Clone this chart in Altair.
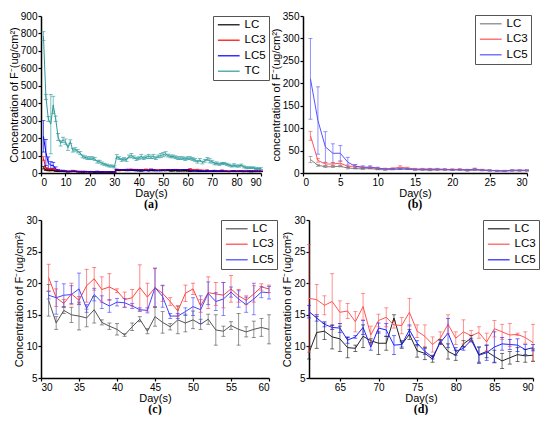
import altair as alt
import pandas as pd

days = list(range(1, 91))

LC = [30, 17, 14, 14, 15, 11, 10, 9, 10, 8, 7, 8, 9, 9, 7, 7, 6, 7, 7, 7, 8, 5, 7, 6, 5, 5, 4, 5, 5, 5,
      17.3, 13.7, 15.7, 15.0, 14.8, 14.5, 15.8, 13.8, 13.2, 12.7, 11.8, 13.1, 14.3, 12.4, 14.7,
      13.8, 13.1, 14.2, 13.7, 14.2, 13.5, 14.3, 12.6, 12.4, 13.3, 12.7, 12.3, 12.7, 13.0, 12.7,
      9.0, 12.2, 12.4, 11.5, 11.2, 9.8, 9.7, 11.6, 10.9, 10.5, 10.5, 14.5, 10.3, 11.9, 9.3,
      8.9, 8.0, 10.8, 9.2, 8.6, 10.4, 11.3, 8.7, 9.2, 8.4, 7.7, 8.2, 8.7, 8.5, 8.6]
LC_err = [7, 2, 2, 2, 1.5, 2, 1, 1, 1, 1, 1, 1, 1, 1, 1, 1, 1, 1, 1, 1, 1, 1, 1, 1, 1, 1, 1, 1, 1, 1,
          2.5, 1.0, 0.5, 1.2, 2.2, 1.4, 2.1, 0.4, 0.5, 0.9, 0.2, 0.6, 0.4, 0.4, 1.5,
          1.7, 0.5, 2.2, 1.4, 1.4, 0.8, 0.8, 2.4, 0.8, 0.6, 2.5, 0.8, 1.3, 1.4, 2.3,
          1.0, 2.5, 1.3, 1.9, 2.0, 1.6, 0.5, 1.8, 0.3, 1.8, 1.1, 0.5, 0.6, 0.8, 1.0,
          1.0, 0.5, 0.3, 1.2, 0.8, 0.5, 0.4, 1.2, 1.0, 1.0, 1.2, 1.0, 1.1, 1.0, 1.0]

LC3 = [83, 28, 20, 20, 22, 15, 15, 12, 12, 10, 9, 10, 13, 11, 9, 9, 9, 9, 8, 8, 8, 7, 9, 7, 6, 5, 5, 6, 6, 6,
       20.9, 17.7, 16.8, 18.3, 17.3, 19.6, 20.7, 19.0, 19.4, 18.8, 17.4, 17.7, 19.3, 17.8, 19.3,
       18.4, 17.1, 15.6, 18.4, 19.1, 16.4, 18.5, 18.3, 18.1, 19.1, 18.0, 17.3, 18.3, 19.4, 19.1,
       17.6, 17.4, 16.5, 17.1, 15.4, 15.6, 13.9, 16.3, 11.8, 14.1, 14.6, 13.4, 13.3, 15.4, 12.4,
       11.6, 10.3, 11.3, 13.5, 11.3, 12.3, 11.7, 12.2, 10.7, 12.8, 12.3, 11.8, 11.9, 11.4, 10.6]
LC3_err = [10, 4, 3, 3, 4, 3, 3, 2, 2, 2, 1.5, 1.5, 3, 2, 1.5, 1.5, 1.5, 1.5, 1.5, 1.5, 1.5, 1.5, 2, 1.5, 1, 1, 1, 1, 1, 1,
           2.1, 1.4, 0.6, 1.7, 0.6, 2.6, 1.8, 2.0, 2.1, 0.3, 1.2, 1.3, 3.6, 2.2, 3.0,
           1.3, 0.6, 0.8, 1.3, 0.9, 1.0, 2.5, 1.8, 2.0, 2.1, 1.0, 0.7, 1.3, 0.5, 0.6,
           8.5, 2.4, 1.5, 4.4, 1.8, 1.2, 1.6, 2.1, 1.4, 1.0, 1.5, 0.5, 1.3, 2.2, 1.0,
           1.8, 1.2, 1.0, 1.5, 1.0, 1.9, 0.8, 0.9, 1.4, 1.3, 1.2, 1.8, 0.2, 0.9, 2.9]

LC5 = [210, 117, 58, 44, 44, 24, 15, 13, 13, 11, 9, 9, 9, 9, 8, 8, 8, 8, 8, 7, 7, 7, 8, 6, 6, 5, 5, 6, 6, 6,
       18.1, 17.7, 18.1, 18.2, 19.1, 16.0, 18.2, 17.0, 16.4, 17.0, 16.9, 16.4, 15.8, 15.7, 19.3,
       17.9, 14.8, 14.8, 15.5, 16.3, 15.8, 18.4, 17.1, 17.5, 18.6, 17.5, 16.6, 17.5, 18.6, 18.5,
       15.5, 14.5, 13.5, 13.0, 12.9, 11.0, 11.5, 13.0, 9.9, 12.9, 12.6, 10.2, 10.3, 12.6, 10.5,
       9.2, 8.3, 10.6, 12.1, 9.2, 9.7, 11.0, 8.6, 9.0, 9.9, 10.4, 10.3, 10.2, 9.5, 9.8]
LC5_err = [90, 75, 34, 21, 17, 11, 4, 3, 3, 2, 1.5, 1.5, 1.5, 1.5, 1, 1, 1, 1, 1, 1, 1, 1, 1.5, 1, 1, 1, 1, 1, 1, 1,
           0.6, 2.6, 1.8, 1.4, 2.5, 0.6, 1.0, 1.0, 1.0, 0.6, 0.7, 0.4, 0.3, 0.4, 3.1,
           1.7, 0.4, 0.4, 0.6, 1.4, 2.2, 1.8, 1.4, 2.6, 0.8, 1.3, 1.2, 2.5, 0.9, 1.0,
           1.0, 0.5, 0.4, 0.3, 0.7, 0.5, 0.2, 1.1, 0.5, 0.8, 1.0, 1.5, 0.4, 0.8, 0.4,
           0.5, 0.3, 0.3, 2.3, 0.6, 0.3, 0.3, 1.3, 1.2, 2.4, 1.0, 0.8, 1.0, 0.8, 0.5]

TC = [785, 436, 310, 280, 390, 311, 206, 170, 190, 180, 145, 180, 130, 135, 125, 115, 95, 90, 85, 85,
      85, 80, 65, 65, 55, 50, 45, 40, 40, 35,
      95, 85, 75, 80, 75, 95, 100, 90, 80, 85, 95, 85, 90, 95, 90, 95, 85, 95, 100, 105,
      110, 100, 95, 95, 90, 85, 85, 85, 80, 85,
      85, 80, 75, 65, 75, 60, 70, 80, 70, 65, 55, 55, 50, 55, 55, 50, 45, 40, 45, 40,
      40, 45, 35, 30, 30, 30, 30, 25, 25, 25]
TC_err = [25, 15, 15, 170, 50, 15, 20, 15, 15, 15, 15, 10, 10, 10, 10, 8, 8, 8, 8, 8,
          8, 8, 8, 8, 8, 6, 6, 6, 6, 6,
          10, 8, 8, 8, 8, 8, 12, 8, 8, 8, 12, 8, 8, 12, 8, 12, 8, 8, 12, 12,
          12, 8, 8, 8, 8, 8, 8, 8, 8, 8,
          8, 8, 8, 8, 8, 8, 8, 8, 12, 8, 8, 8, 6, 6, 6, 6, 6, 6, 8, 6,
          6, 6, 6, 6, 5, 5, 5, 5, 5, 5]

series_data = {"LC": (LC, LC_err), "LC3": (LC3, LC3_err), "LC5": (LC5, LC5_err), "TC": (TC, TC_err)}
rows = []
for name, (vals, errs) in series_data.items():
    for d, v, e in zip(days, vals, errs):
        rows.append({"day": d, "series": name, "value": v, "lo": v - e, "hi": v + e})
df = pd.DataFrame(rows)

FONT = "Liberation Sans"


def panel(names, colors, dfirst, dlast, xdom, xticks, ydom, yticks, ytitle, w, h, lx, ly, caption):
    sub = df[(df.series.isin(names)) & (df.day >= dfirst) & (df.day <= dlast)]
    x = alt.X("day:Q", title="Day(s)", scale=alt.Scale(domain=xdom, nice=False, zero=False),
              axis=alt.Axis(values=xticks, format="d", labelOverlap=False, titlePadding=0))
    leg = alt.Legend(title=None, orient="none", legendX=lx, legendY=ly, symbolType="M-2.6,0L2.6,0",
                     symbolStrokeWidth=1.5, symbolSize=70, symbolOffset=7,
                     labelFont=FONT, labelFontSize=11.5,
                     strokeColor="#555555", fillColor="white", padding=3, rowPadding=2.5,
                     labelOffset=10)
    color = alt.Color("series:N", scale=alt.Scale(domain=names, range=colors), legend=leg)
    ysc = alt.Scale(domain=ydom, nice=False, zero=False)
    yaxis = alt.Axis(values=yticks, labelOverlap=False, format="d", titlePadding=1)
    base = alt.Chart(sub).encode(x=x, color=color)
    line = base.mark_line(strokeWidth=1).encode(
        y=alt.Y("value:Q", title=ytitle, scale=ysc, axis=yaxis))
    rule = base.mark_rule(strokeWidth=0.8, opacity=0.8).encode(
        y=alt.Y("lo:Q", title=ytitle, scale=ysc, axis=yaxis), y2="hi:Q")
    cap1 = base.mark_tick(orient="horizontal", size=4, thickness=0.8, opacity=0.8).encode(
        y=alt.Y("lo:Q", title=ytitle, scale=ysc, axis=yaxis))
    cap2 = base.mark_tick(orient="horizontal", size=4, thickness=0.8, opacity=0.8).encode(
        y=alt.Y("hi:Q", title=ytitle, scale=ysc, axis=yaxis))
    return alt.layer(line, rule, cap1, cap2).properties(
        width=w, height=h,
        title=alt.TitleParams(caption, orient="bottom", font="Liberation Serif", fontSize=12,
                              fontWeight="bold", offset=1, color="black"))


ytitle = "Concentration of F\u207b(ug/cm\u00b2)"
pa = panel(["LC", "LC3", "LC5", "TC"], ["#000000", "#ff0000", "#0000ff", "#2e9c9c"], 1, 90, [0, 90],
           list(range(0, 91, 10)), [0, 900], list(range(0, 901, 100)), ytitle, 220, 157, 172, 0, "(a)")
pb = panel(["LC", "LC3", "LC5"], ["#808080", "#ff5555", "#5555ff"], 1, 30, [0, 30],
           list(range(0, 31, 5)), [0, 350], list(range(0, 351, 50)),
           "concentration of F\u207b(ug/cm\u00b2)", 224, 157, 172, -1, "(b)")
pc = panel(["LC", "LC3", "LC5"], ["#555555", "#ff4444", "#4444ff"], 31, 60, [30, 60],
           list(range(30, 61, 5)), [5, 30], list(range(5, 31, 5)), ytitle, 228, 158, 180, 0, "(c)")
pd_ = panel(["LC", "LC3", "LC5"], ["#222222", "#ff5555", "#2222ff"], 61, 90, [61, 90],
            list(range(65, 91, 5)), [5, 30], list(range(5, 31, 5)), ytitle, 224, 158, 174, 0, "(d)")

row1 = alt.hconcat(pa, pb, spacing=0).resolve_scale(color="independent")
row2 = alt.hconcat(pc, pd_, spacing=3).resolve_scale(color="independent")
chart = alt.vconcat(row1, row2, spacing=5).resolve_scale(color="independent").properties(
    padding={"left": 0, "top": 3, "right": 0, "bottom": 0}
).configure_view(stroke=None).configure_axis(
    grid=False, domainColor="black", domainWidth=1.5, tickColor="black", tickSize=3, tickWidth=1.2,
    labelFont=FONT, labelFontSize=10, labelColor="black", titleFont=FONT, titleFontSize=11,
    titleFontWeight="normal", titleColor="black", labelPadding=1
)

chart.save("out.html", embed_options={"renderer": "svg", "actions": False})
